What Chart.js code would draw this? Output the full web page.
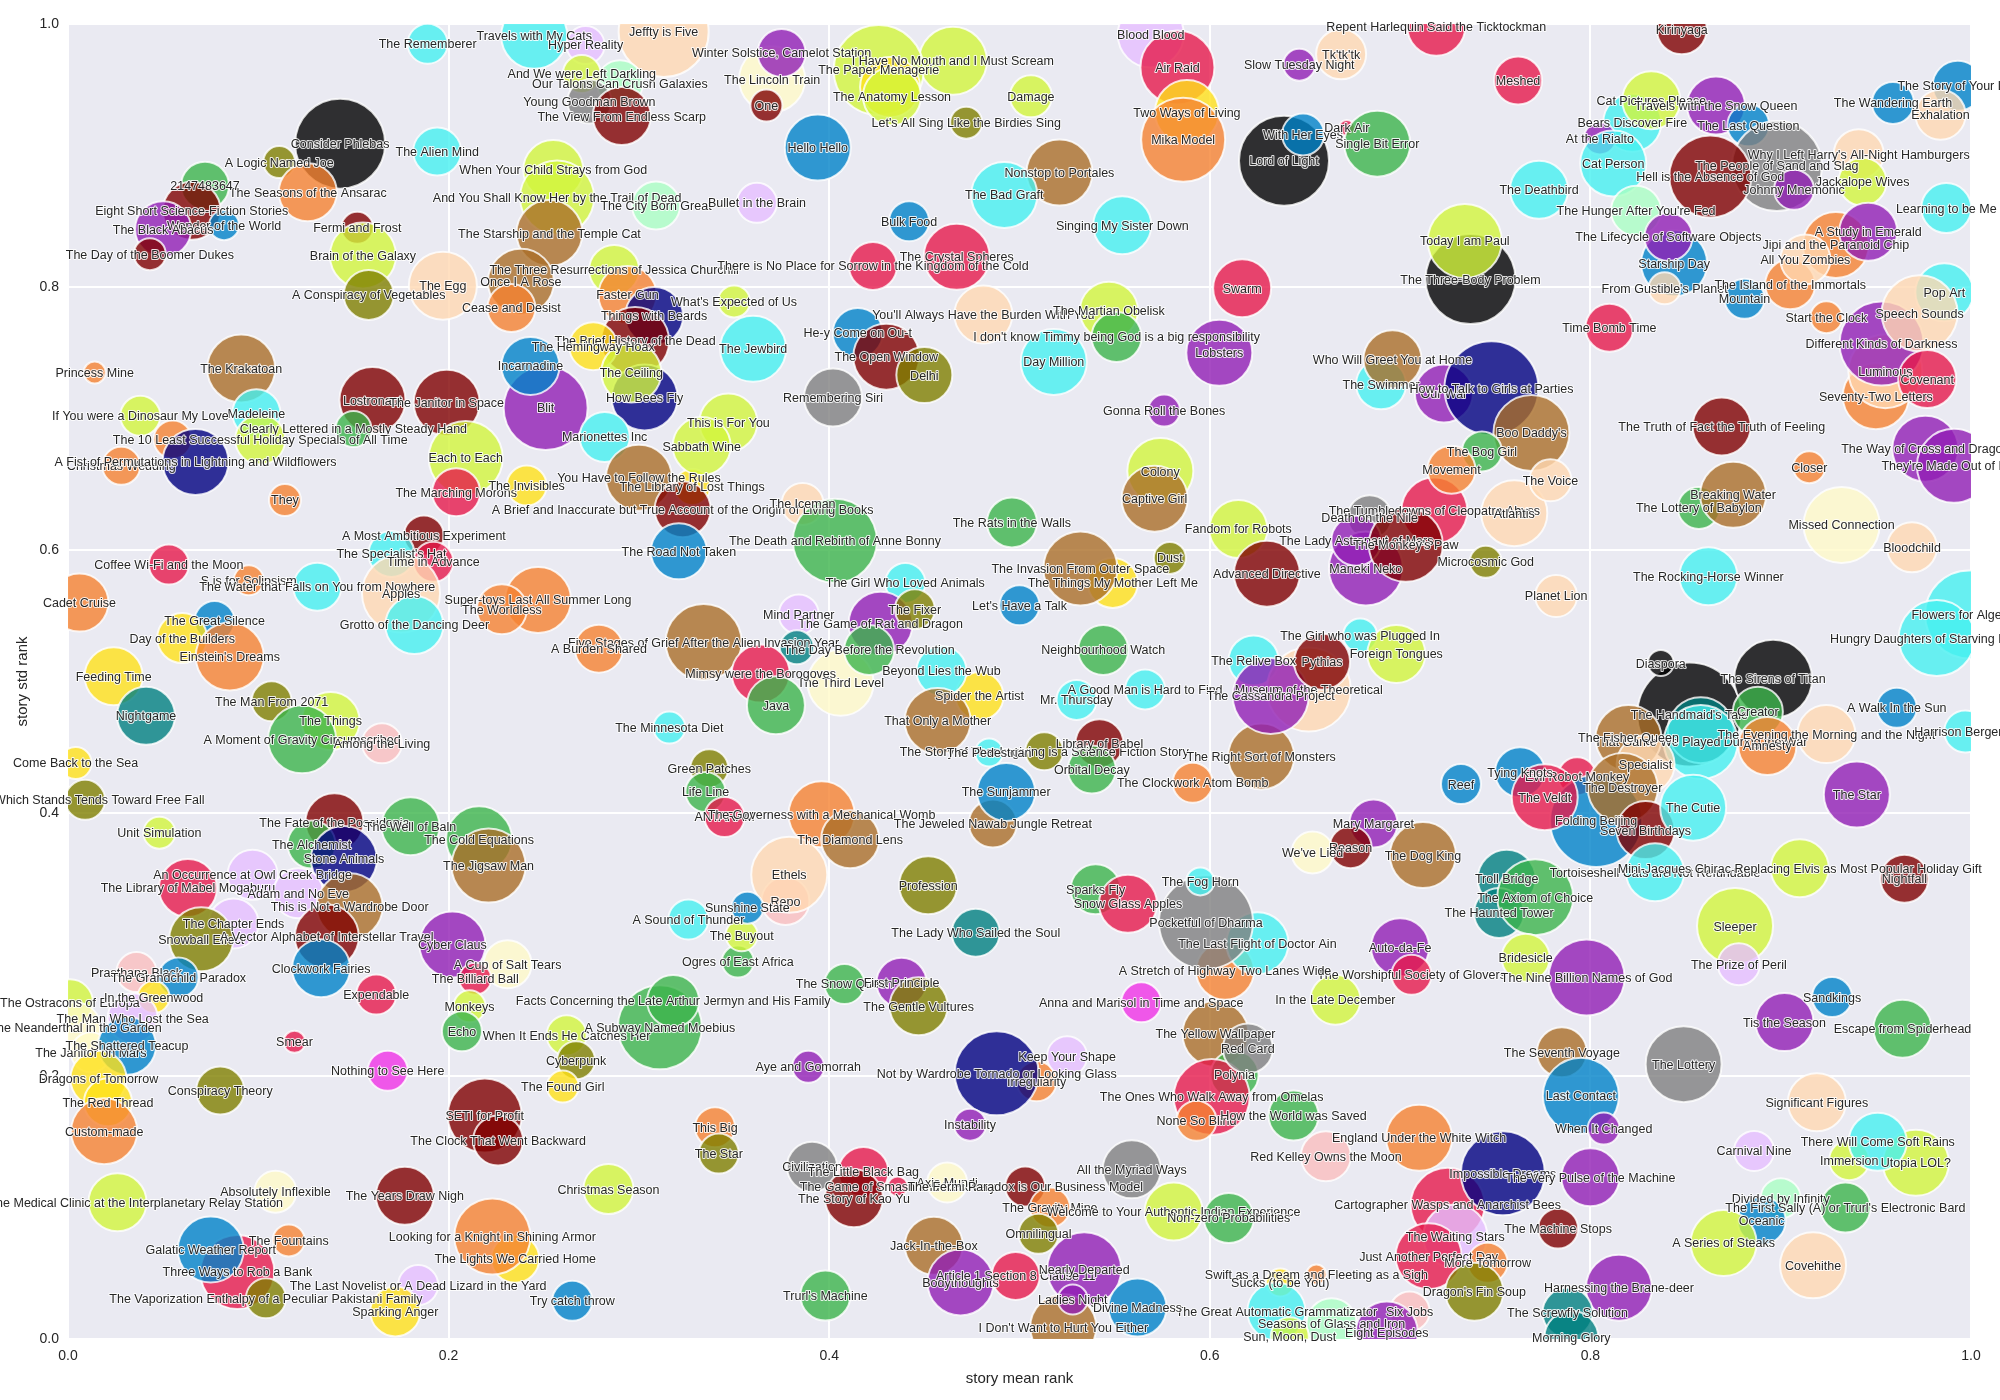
<!DOCTYPE html>
<html>
<head>
<meta charset="utf-8">
<title>story mean rank vs std rank</title>
<script src="https://cdn.jsdelivr.net/npm/chart.js"></script>
<style>
  html, body { margin: 0; padding: 0; background: #fff; }
  #wrap { position: absolute; left: 0; top: 0; width: 2000px; height: 1400px; }
</style>
</head>
<body>
<div id="wrap"><canvas id="chart" width="2000" height="1400"></canvas></div>
<script>
// one row = 10 stories, the arrays below line up row by row
const storyTitles = [
  "The Rememberer", "Travels with My Cats", "Hyper Reality", "Jeffty is Five", "Our Talons Can Crush Galaxies", "And We were Left Darkling", "Young Goodman Brown", "The View From Endless Scarp", "Consider Phlebas", "A Logic Named Joe",
  "The Alien Mind", "When Your Child Strays from God", "And You Shall Know Her by the Trail of Dead", "The City Born Great", "The Seasons of the Ansarac", "2147483647", "Eight Short Science-Fiction Stories", "Wonder of the World", "The Black Abacus", "The Day of the Boomer Dukes",
  "Fermi and Frost", "Brain of the Galaxy", "A Conspiracy of Vegetables", "The Egg", "The Starship and the Temple Cat", "The Three Resurrections of Jessica Churchill", "Once I A Rose", "Cease and Desist", "Faster Gun", "Things with Beards",
  "What's Expected of Us", "The Brief History of the Dead", "The Hemingway Hoax", "Blit", "How Bees Fly", "Incarnadine", "The Ceiling", "Marionettes Inc", "Princess Mine", "The Krakatoan",
  "Madeleine", "If You were a Dinosaur My Love", "Lostronaut", "The Janitor in Space", "Clearly Lettered in a Mostly Steady Hand", "The 10 Least Successful Holiday Specials of All Time", "", "Christmas Wedding", "A Fist of Permutations in Lightning and Wildflowers", "Each to Each",
  "The Marching Morons", "The Invisibles", "You Have to Follow the Rules", "The Library of Lost Things", "A Brief and Inaccurate but True Account of the Origin of Living Books", "They", "A Most Ambitious Experiment", "The Specialist's Hat", "Time in Advance", "Coffee Wi-Fi and the Moon",
  "S is for Solipsism", "The Water that Falls on You from Nowhere", "Apples", "Grotto of the Dancing Deer", "Cadet Cruise", "The Great Silence", "Day of the Builders", "Einstein's Dreams", "Feeding Time", "Nightgame",
  "The Man From 2071", "The Things", "A Moment of Gravity Circumscribed", "Among the Living", "Come Back to the Sea", "That Which Stands Tends Toward Free Fall", "Unit Simulation", "The Fate of the Poseidonia", "The Well of Baln", "The Cold Equations",
  "The Jigsaw Man", "The Alchemist", "Stone Animals", "An Occurrence at Owl Creek Bridge", "The Library of Mabel Mogaburu", "Adam and No Eve", "This is Not a Wardrobe Door", "The Chapter Ends", "Snowball Effect", "A Vector Alphabet of Interstellar Travel",
  "Cyber Claus", "A Cup of Salt Tears", "The Billiard Ball", "Clockwork Fairies", "Expendable", "Monkeys", "Echo", "When It Ends He Catches Her", "A Subway Named Moebius", "Facts Concerning the Late Arthur Jermyn and His Family",
  "Cyberpunk", "The Found Girl", "Smear", "Nothing to See Here", "Conspiracy Theory", "SETI for Profit", "The Clock That Went Backward", "Prasthana Black", "The Grandchild Paradox", "The Ostracons of Europa",
  "In the Greenwood", "The Man Who Lost the Sea", "The Neanderthal in the Garden", "The Janitor on Mars", "The Shattered Teacup", "Dragons of Tomorrow", "The Red Thread", "Custom-made", "Visit to the Medical Clinic at the Interplanetary Relay Station", "Absolutely Inflexible",
  "The Years Draw Nigh", "Christmas Season", "The Lights We Carried Home", "Looking for a Knight in Shining Armor", "The Fountains", "Three Ways to Rob a Bank", "Galatic Weather Report", "The Vaporization Enthalpy of a Peculiar Pakistani Family", "The Last Novelist or A Dead Lizard in the Yard", "Sparking Anger",
  "Try catch throw", "The Lincoln Train", "Winter Solstice, Camelot Station", "One", "I Have No Mouth and I Must Scream", "The Paper Menagerie", "", "The Anatomy Lesson", "Let's All Sing Like the Birdies Sing", "Damage",
  "Hello Hello", "Bullet in the Brain", "Bulk Food", "Nonstop to Portales", "The Bad Graft", "Singing My Sister Down", "The Crystal Spheres", "There is No Place for Sorrow in the Kingdom of the Cold", "You'll Always Have the Burden With You", "The Martian Obelisk",
  "I don't know Timmy being God is a big responsibility", "Day Million", "He-y Come on Ou-t", "The Open Window", "Delhi", "The Jewbird", "Remembering Siri", "This is For You", "Sabbath Wine", "Lobsters",
  "Gonna Roll the Bones", "Colony", "Swarm", "Blood Blood", "Air Raid", "Two Ways of Living", "Mika Model", "Slow Tuesday Night", "Tk'tk'tk", "Lord of Light",
  "With Her Eyes", "Dark Air", "Single Bit Error", "Repent Harlequin Said the Ticktockman", "Kirinyaga", "Meshed", "Bears Discover Fire", "Cat Pictures Please", "Travels with the Snow Queen", "The Last Question",
  "At the Rialto", "Cat Person", "The Deathbird", "Why I Left Harry's All-Night Hamburgers", "The People of Sand and Slag", "Hell is the Absence of God", "Johnny Mnemonic", "Jackalope Wives", "Learning to be Me", "The Story of Your Life",
  "The Wandering Earth", "Exhalation", "The Hunger After You're Fed", "Starship Day", "The Lifecycle of Software Objects", "From Gustible's Planet", "Mountain", "The Island of the Immortals", "Jipi and the Paranoid Chip", "All You Zombies",
  "A Study in Emerald", "Start the Clock", "The Three-Body Problem", "Today I am Paul", "Time Bomb Time", "Pop Art", "Seventy-Two Letters", "Luminous", "Different Kinds of Darkness", "Speech Sounds",
  "Covenant", "The Truth of Fact the Truth of Feeling", "Closer", "The Way of Cross and Dragon", "They're Made Out of Meat", "The Swimmer", "Who Will Greet You at Home", "Our War", "How to Talk to Girls at Parties", "Boo Daddy's",
  "The Bog Girl", "The Tumbledowns of Cleopatra Abyss", "Movement", "Atlantis", "The Voice", "Death on the Nile", "Maneki Neko", "The Lady Astronaut of Mars", "The Monkey's Paw", "Microcosmic God",
  "Planet Lion", "The Lottery of Babylon", "Breaking Water", "Missed Connection", "Bloodchild", "The Rocking-Horse Winner", "Flowers for Algernon", "Hungry Daughters of Starving Mothers", "The Handmaid's Tale", "Diaspora",
  "The Sirens of Titan", "Creator", "", "That Game We Played During the War", "The Evening the Morning and the Night", "Amnesty", "A Walk In the Sun", "Harrison Bergeron", "The Fisher Queen", "Specialist",
  "Evil Robot Monkey", "Tying Knots", "Reef", "Folding Beijing", "The Veldt", "The Destroyer", "Seven Birthdays", "The Cutie", "The Star", "Mary Margaret",
  "Reason", "We've Lied", "The Dog King", "Troll Bridge", "The Haunted Tower", "The Axiom of Choice", "Tortoiseshell Cats are Not Refundable", "Mini-Jacques Chirac Replacing Elvis as Most Popular Holiday Gift", "Nightfall", "Sleeper",
  "The Prize of Peril", "Sandkings", "Tis the Season", "Escape from Spiderhead", "The Lottery", "The Seventh Voyage", "Last Contact", "When It Changed", "Auto-da-Fe", "The Worshipful Society of Glovers",
  "Bridesicle", "The Nine Billion Names of God", "In the Late December", "Significant Figures", "Carnival Nine", "Immersion", "Utopia LOL?", "There Will Come Soft Rains", "Divided by Infinity", "The First Sally (A) or Trurl's Electronic Bard",
  "Oceanic", "A Series of Steaks", "Covehithe", "England Under the White Witch", "Cartographer Wasps and Anarchist Bees", "Impossible Dreams", "The Very Pulse of the Machine", "The Machine Stops", "The Waiting Stars", "Just Another Perfect Day",
  "More Tomorrow", "Dragon's Fin Soup", "Swift as a Dream and Fleeting as a Sigh", "Sucks (to be You)", "The Great Automatic Grammatizator", "Seasons of Glass and Iron", "Sun, Moon, Dust", "Six Jobs", "Eight Episodes", "Harnessing the Brane-deer",
  "The Screwfly Solution", "Morning Glory", "Ogres of East Africa", "The Buyout", "The Snow Queen", "First Principle", "The Gentle Vultures", "Aye and Gomorrah", "Irregularity", "Not by Wardrobe Tornado or Looking Glass",
  "Keep Your Shape", "Instability", "This Big", "The Star", "Civilization", "The Little Black Bag", "The Game of Smash and Recovery", "The Story of Kao Yu", "Axis Mundi", "The Fermi Paradox is Our Business Model",
  "The Gravity Mine", "Welcome to Your Authentic Indian Experience", "Non-zero Probabilities", "All the Myriad Ways", "Omnilingual", "Jack-In-the-Box", "Bodythoughts", "Article 1 Section 8 Clause 11", "Nearly Departed", "I Don't Want to Hurt You Either",
  "Ladies Night", "Divine Madness", "Trurl's Machine", "Anna and Marisol in Time and Space", "A Stretch of Highway Two Lanes Wide", "The Last Flight of Doctor Ain", "Pocketful of Dharma", "The Fog Horn", "Sparks Fly", "Snow Glass Apples",
  "The Yellow Wallpaper", "Polynia", "The Ones Who Walk Away from Omelas", "Red Card", "None So Blind", "How the World was Saved", "Red Kelley Owns the Moon", "The Rats in the Walls", "Captive Girl", "Fandom for Robots",
  "Advanced Directive", "Dust", "The Things My Mother Left Me", "The Invasion From Outer Space", "Let's Have a Talk", "Neighbourhood Watch", "The Iceman", "The Death and Rebirth of Anne Bonny", "The Road Not Taken", "The Girl Who Loved Animals",
  "The Game of Rat and Dragon", "The Fixer", "Mind Partner", "", "Five Stages of Grief After the Alien Invasion Year", "A Burden Shared", "Super-toys Last All Summer Long", "The Worldless", "The Third Level", "Mimsy were the Borogoves",
  "Java", "The Day Before the Revolution", "Spider the Artist", "Beyond Lies the Wub", "That Only a Mother", "The Minnesota Diet", "Green Patches", "Life Line", "ANTARAM", "The Governess with a Mechanical Womb",
  "The Diamond Lens", "Repo", "Ethels", "Sunshine State", "A Sound of Thunder", "Profession", "The Lady Who Sailed the Soul", "The Jeweled Nawab Jungle Retreat", "The Sunjammer", "The Story of Thanksgiving is a Science Fiction Story",
  "The Pedestrian", "Library of Babel", "Orbital Decay", "The Clockwork Atom Bomb", "The Right Sort of Monsters", "A Good Man is Hard to Find", "Mr. Thursday", "The Relive Box", "Museum of the Theoretical", "The Cassandra Project",
  "Pythias", "The Girl who was Plugged In", "Foreign Tongues"
];

const storyMeanRank = [
  .189, .245, .272, .313, .290, .270, .274, .291, .143, .111,
  .194, .255, .257, .309, .126, .072, .065, .082, .050, .043,
  .152, .155, .158, .197, .253, .287, .238, .233, .294, .308,
  .350, .298, .276, .251, .303, .243, .296, .282, .014, .091,
  .099, .038, .160, .199, .150, .101, .055, .028, .067, .209,
  .204, .241, .300, .328, .323, .114, .187, .170, .192, .053,
  .095, .131, .175, .182, .006, .077, .060, .085, .024, .041,
  .107, .138, .123, .165, .004, .009, .048, .140, .180, .216,
  .221, .128, .145, .097, .063, .121, .148, .087, .070, .136,
  .202, .231, .214, .133, .162, .211, .207, .262, .311, .318,
  .267, .260, .119, .168, .080, .219, .226, .036, .058, .001,
  .045, .034, .004, .012, .031, .016, .021, .019, .026, .109,
  .177, .284, .235, .223, .116, .089, .075, .104, .184, .172,
  .265, .370, .375, .367, .465, .426, .432, .433, .472, .506,
  .394, .362, .442, .521, .492, .554, .467, .423, .481, .547,
  .551, .518, .415, .430, .450, .360, .402, .347, .333, .605,
  .576, .574, .617, .569, .583, .588, .586, .647, .669, .639,
  .649, .672, .688, .719, .848, .762, .822, .832, .866, .883,
  .805, .812, .773, .941, .898, .863, .907, .943, .987, .993,
  .959, .984, .824, .844, .841, .839, .881, .905, .929, .913,
  .946, .924, .737, .734, .810, .986, .950, .955, .953, .973,
  .977, .869, .915, .976, .991, .690, .696, .723, .748, .769,
  .743, .718, .727, .760, .779, .684, .682, .677, .703, .745,
  .782, .857, .875, .932, .969, .862, .999, .982, .852, .837,
  .896, .888, .858, .858, .924, .893, .961, .997, .820, .829,
  .793, .763, .732, .803, .776, .817, .829, .854, .940, .686,
  .674, .654, .712, .756, .752, .771, .834, .910, .965, .876,
  .878, .927, .902, .964, .849, .785, .795, .807, .700, .706,
  .766, .798, .666, .919, .886, .936, .971, .951, .900, .934,
  .890, .870, .917, .710, .725, .754, .800, .783, .729, .715,
  .746, .739, .656, .637, .635, .664, .642, .705, .693, .815,
  .788, .790, .352, .354, .408, .438, .447, .389, .509, .488,
  .525, .474, .340, .342, .391, .418, .436, .413, .462, .503,
  .516, .581, .610, .559, .510, .455, .469, .498, .534, .523,
  .528, .562, .398, .564, .608, .625, .598, .595, .540, .557,
  .603, .613, .601, .620, .593, .644, .661, .496, .571, .615,
  .630, .579, .549, .532, .500, .544, .386, .403, .321, .440,
  .427, .445, .384, .383, .334, .279, .247, .228, .406, .364,
  .372, .421, .479, .459, .457, .316, .337, .335, .345, .396,
  .411, .377, .379, .357, .326, .452, .477, .486, .493, .513,
  .484, .542, .538, .591, .627, .566, .530, .623, .652, .632,
  .659, .679, .698
];

const storyStdRank = [
  .985, .991, .984, .994, .955, .962, .941, .930, .909, .895,
  .903, .889, .868, .862, .872, .877, .858, .847, .844, .825,
  .845, .824, .794, .801, .841, .813, .804, .784, .794, .778,
  .789, .759, .755, .708, .716, .740, .735, .686, .735, .738,
  .704, .702, .714, .712, .692, .684, .684, .664, .667, .670,
  .644, .649, .655, .648, .631, .638, .611, .597, .591, .589,
  .577, .572, .567, .543, .560, .546, .533, .519, .504, .474,
  .485, .470, .456, .453, .438, .410, .385, .393, .390, .380,
  .360, .376, .365, .353, .343, .339, .329, .316, .304, .306,
  .300, .285, .274, .282, .262, .253, .234, .231, .237, .257,
  .212, .192, .226, .204, .189, .170, .151, .279, .275, .256,
  .260, .244, .237, .218, .223, .198, .180, .158, .104, .112,
  .109, .114, .061, .078, .075, .051, .068, .031, .041, .021,
  .029, .958, .978, .938, .972, .965, .952, .945, .925, .945,
  .906, .864, .850, .887, .870, .847, .823, .816, .779, .782,
  .762, .743, .765, .747, .733, .753, .716, .697, .679, .750,
  .706, .660, .799, .992, .967, .933, .912, .969, .977, .896,
  .916, .921, .909, .998, .996, .957, .925, .942, .938, .923,
  .913, .894, .874, .901, .892, .884, .874, .880, .860, .953,
  .940, .931, .858, .818, .838, .799, .791, .802, .832, .821,
  .842, .777, .806, .835, .769, .796, .717, .736, .757, .780,
  .730, .694, .663, .677, .664, .726, .745, .719, .723, .689,
  .675, .630, .661, .628, .653, .625, .586, .607, .604, .591,
  .565, .632, .642, .619, .602, .580, .551, .533, .475, .514,
  .502, .477, .463, .454, .460, .451, .480, .462, .457, .437,
  .428, .431, .422, .394, .412, .419, .387, .404, .414, .392,
  .374, .370, .368, .350, .324, .336, .355, .358, .350, .314,
  .285, .260, .241, .236, .209, .218, .185, .160, .298, .277,
  .290, .275, .258, .180, .143, .136, .134, .150, .107, .100,
  .090, .073, .056, .153, .102, .126, .123, .084, .078, .063,
  .058, .036, .049, .043, .021, .012, .002, .021, .005, .039,
  .020, .001, .287, .307, .270, .271, .253, .207, .196, .202,
  .215, .163, .161, .141, .131, .127, .116, .107, .119, .116,
  .100, .097, .092, .129, .080, .071, .043, .048, .053, .009,
  .030, .024, .033, .256, .280, .301, .317, .348, .342, .331,
  .232, .201, .184, .221, .166, .170, .139, .621, .639, .616,
  .582, .594, .575, .586, .558, .524, .635, .607, .599, .575,
  .544, .555, .551, .526, .530, .525, .562, .555, .499, .506,
  .482, .524, .489, .508, .470, .465, .434, .416, .397, .399,
  .380, .333, .353, .328, .319, .345, .309, .392, .416, .447,
  .446, .453, .433, .423, .443, .494, .486, .516, .494, .489,
  .515, .535, .521
];

// bubble area
const storySize = [
  441, 1156, 400, 2116, 576, 400, 529, 900, 2116, 289,
  625, 961, 1444, 625, 900, 625, 900, 256, 841, 289,
  289, 1156, 676, 1225, 1156, 676, 1156, 625, 900, 900,
  289, 1225, 625, 1849, 1156, 900, 961, 676, 144, 1225,
  625, 441, 1156, 1156, 361, 676, 400, 400, 1156, 1444,
  625, 441, 1156, 361, 841, 289, 441, 576, 441, 441,
  256, 625, 1600, 900, 900, 441, 676, 1225, 900, 900,
  441, 900, 1225, 441, 289, 441, 289, 900, 900, 1156,
  1444, 625, 1156, 676, 900, 676, 1156, 676, 1089, 1089,
  1156, 625, 289, 900, 441, 289, 441, 441, 1849, 729,
  400, 289, 144, 441, 625, 1444, 676, 441, 441, 576,
  289, 676, 676, 441, 900, 841, 625, 1156, 900, 484,
  900, 676, 625, 1521, 289, 1444, 1156, 441, 441, 676,
  441, 1156, 625, 289, 1225, 2116, 961, 900, 289, 484,
  1156, 441, 441, 1156, 1156, 900, 1156, 625, 900, 900,
  676, 1156, 676, 1156, 841, 1156, 900, 900, 900, 1156,
  289, 1156, 900, 1156, 1444, 1089, 1849, 289, 676, 2116,
  484, 81, 1156, 900, 676, 625, 900, 900, 900, 484,
  289, 1156, 900, 676, 2116, 1764, 441, 625, 676, 676,
  484, 676, 676, 1156, 625, 289, 441, 676, 1156, 676,
  900, 289, 2116, 1444, 625, 900, 1156, 1444, 1849, 1521,
  900, 900, 289, 1156, 1444, 676, 900, 900, 2304, 1521,
  441, 1156, 625, 1156, 484, 529, 1444, 676, 1444, 289,
  484, 484, 1156, 1521, 676, 900, 2025, 1521, 2809, 196,
  1600, 676, 1156, 1444, 900, 900, 441, 484, 1156, 900,
  400, 676, 441, 2209, 1156, 1296, 900, 1156, 1156, 625,
  484, 484, 1156, 900, 676, 1521, 900, 900, 625, 1521,
  484, 441, 900, 900, 1521, 676, 1521, 289, 900, 441,
  625, 1521, 676, 900, 441, 441, 1156, 900, 441, 676,
  625, 1156, 1156, 1156, 1444, 1849, 900, 441, 1089, 1156,
  441, 900, 121, 225, 900, 676, 400, 441, 1024, 1156,
  676, 784, 289, 289, 441, 676, 900, 289, 441, 1849,
  441, 289, 441, 441, 676, 676, 121, 900, 441, 441,
  441, 900, 676, 900, 441, 900, 1156, 625, 1444, 1156,
  256, 900, 676, 441, 900, 1024, 2304, 225, 676, 900,
  1156, 625, 1521, 676, 441, 676, 676, 676, 1156, 900,
  1156, 289, 676, 1444, 441, 676, 484, 1849, 841, 441,
  1089, 441, 441, 324, 1521, 625, 1156, 676, 1156, 900,
  900, 676, 625, 676, 1156, 289, 400, 441, 441, 1156,
  900, 625, 1521, 289, 441, 900, 625, 625, 900, 400,
  225, 625, 625, 441, 1156, 441, 441, 676, 1849, 1521,
  841, 324, 900
];

const storyCluster = [
  "cyan", "cyan", "lavender", "coral", "mint", "lime", "grey", "maroon", "black", "olive",
  "cyan", "lime", "lime", "mint", "orange", "green", "maroon", "blue", "purple", "maroon",
  "maroon", "lime", "olive", "coral", "brown", "lime", "brown", "orange", "orange", "navy",
  "lime", "maroon", "yellow", "purple", "navy", "blue", "lime", "cyan", "orange", "brown",
  "cyan", "lime", "maroon", "maroon", "green", "lime", "orange", "orange", "navy", "lime",
  "red", "yellow", "brown", "yellow", "maroon", "orange", "maroon", "cyan", "red", "red",
  "orange", "cyan", "coral", "cyan", "orange", "blue", "yellow", "orange", "yellow", "teal",
  "olive", "lime", "green", "pink", "yellow", "olive", "lime", "maroon", "green", "green",
  "brown", "green", "navy", "lavender", "red", "lavender", "brown", "lavender", "olive", "maroon",
  "purple", "beige", "red", "blue", "red", "lime", "green", "lime", "green", "green",
  "olive", "yellow", "red", "magenta", "olive", "maroon", "maroon", "pink", "blue", "lime",
  "yellow", "lavender", "beige", "beige", "blue", "yellow", "yellow", "orange", "lime", "beige",
  "maroon", "lime", "yellow", "orange", "orange", "red", "blue", "olive", "lavender", "yellow",
  "blue", "beige", "purple", "maroon", "lime", "lime", "yellow", "lime", "olive", "lime",
  "blue", "lavender", "blue", "brown", "cyan", "cyan", "red", "red", "coral", "lime",
  "green", "cyan", "blue", "maroon", "olive", "cyan", "grey", "lime", "lime", "purple",
  "purple", "lime", "red", "lavender", "red", "yellow", "orange", "purple", "coral", "black",
  "blue", "red", "green", "red", "maroon", "red", "cyan", "lime", "purple", "blue",
  "purple", "cyan", "cyan", "coral", "grey", "maroon", "purple", "lime", "cyan", "blue",
  "blue", "coral", "mint", "blue", "purple", "coral", "blue", "orange", "orange", "coral",
  "purple", "orange", "black", "lime", "red", "cyan", "orange", "coral", "purple", "coral",
  "red", "maroon", "orange", "purple", "purple", "cyan", "brown", "purple", "navy", "brown",
  "green", "red", "orange", "coral", "coral", "grey", "purple", "purple", "maroon", "olive",
  "coral", "green", "brown", "beige", "coral", "cyan", "cyan", "cyan", "black", "black",
  "black", "green", "teal", "cyan", "coral", "orange", "blue", "cyan", "brown", "coral",
  "red", "blue", "blue", "blue", "red", "brown", "maroon", "cyan", "purple", "purple",
  "maroon", "beige", "brown", "teal", "teal", "green", "cyan", "lime", "maroon", "lime",
  "lavender", "blue", "purple", "green", "grey", "brown", "blue", "purple", "purple", "red",
  "lime", "purple", "lime", "coral", "lavender", "lime", "lime", "cyan", "mint", "green",
  "blue", "lime", "coral", "orange", "red", "navy", "purple", "maroon", "lavender", "red",
  "orange", "olive", "orange", "yellow", "cyan", "mint", "lime", "pink", "purple", "purple",
  "teal", "teal", "green", "lime", "green", "purple", "olive", "purple", "orange", "navy",
  "lavender", "purple", "orange", "olive", "grey", "red", "red", "maroon", "beige", "maroon",
  "orange", "lime", "green", "grey", "olive", "brown", "purple", "red", "purple", "brown",
  "purple", "blue", "green", "magenta", "orange", "cyan", "grey", "cyan", "green", "red",
  "brown", "green", "red", "grey", "orange", "green", "pink", "green", "brown", "lime",
  "maroon", "olive", "yellow", "brown", "blue", "green", "coral", "green", "blue", "cyan",
  "purple", "olive", "lavender", "teal", "brown", "orange", "orange", "orange", "beige", "red",
  "green", "green", "yellow", "cyan", "brown", "cyan", "olive", "green", "red", "orange",
  "brown", "pink", "coral", "blue", "cyan", "olive", "teal", "brown", "blue", "olive",
  "cyan", "maroon", "green", "orange", "brown", "cyan", "cyan", "cyan", "coral", "purple",
  "maroon", "cyan", "lime"
];

const tickValues = [0, 0.2, 0.4, 0.6, 0.8, 1];

const clusterColors = {
  red: "#e6194b", green: "#3cb44b", yellow: "#ffe119", blue: "#0082c8", orange: "#f58231",
  purple: "#911eb4", cyan: "#46f0f0", magenta: "#f032e6", lime: "#d2f53c", pink: "#fabebe",
  teal: "#008080", lavender: "#e6beff", brown: "#aa6e28", beige: "#fffac8", maroon: "#800000",
  mint: "#aaffc3", olive: "#808000", coral: "#ffd8b1", navy: "#000080", grey: "#808080", black: "#000000"
};

const TEXT_COLOR = "#262626";
const FONT = '"Liberation Sans", Arial, sans-serif';

function withAlpha(hex, alpha) {
    const n = parseInt(hex.slice(1), 16);
    return `rgba(${(n >> 16) & 255}, ${(n >> 8) & 255}, ${n & 255}, ${alpha})`;
}

const points = storyTitles.map((title, i) => ({
    x: storyMeanRank[i],
    y: storyStdRank[i],
    r: Math.sqrt(storySize[i]) - 1
}));

// seaborn style panel background
const panelBackground = {
    id: "panelBackground",
    beforeDraw(chart) {
        const { ctx, chartArea: a } = chart;
        ctx.save();
        ctx.fillStyle = "#eaeaf2";
        ctx.fillRect(a.left, a.top, a.right - a.left, a.bottom - a.top);
        ctx.restore();
    }
};

// titles sit on top of every bubble, not clipped to the panel
const storyLabels = {
    id: "storyLabels",
    afterDatasetsDraw(chart) {
        const { ctx, scales } = chart;
        ctx.save();
        ctx.font = `12.5px ${FONT}`;
        ctx.textAlign = "center";
        ctx.textBaseline = "middle";
        ctx.lineJoin = "round";
        storyTitles.forEach((title, i) => {
            if (!title) return;
            const px = scales.x.getPixelForValue(storyMeanRank[i]);
            const py = scales.y.getPixelForValue(storyStdRank[i]) + 1;
            ctx.strokeStyle = "rgba(255,255,255,0.85)";
            ctx.lineWidth = 2;
            ctx.strokeText(title, px, py);
            ctx.fillStyle = TEXT_COLOR;
            ctx.fillText(title, px, py);
        });
        ctx.restore();
    }
};

function axisOptions(label) {
    return {
        type: "linear",
        min: 0,
        max: 1,
        afterBuildTicks: (scale) => { scale.ticks = tickValues.map((value) => ({ value })); },
        ticks: {
            color: TEXT_COLOR,
            font: { family: FONT, size: 14 },
            padding: 9,
            maxRotation: 0,
            callback: (v) => v.toFixed(1)
        },
        grid: { color: "#ffffff", lineWidth: 2, drawTicks: false },
        border: { display: false },
        title: {
            display: true,
            text: label,
            color: TEXT_COLOR,
            font: { family: FONT, size: 15 },
            padding: 0
        }
    };
}

const xAxis = axisOptions("story mean rank");
xAxis.afterFit = (scale) => { scale.height = 49; };
const yAxis = axisOptions("story std rank");
yAxis.afterFit = (scale) => { scale.width = 54; };

new Chart(document.getElementById("chart").getContext("2d"), {
    type: "bubble",
    data: {
        datasets: [{
            data: points,
            backgroundColor: storyCluster.map((c) => withAlpha(clusterColors[c], 0.8)),
            borderColor: "rgba(255,255,255,0.8)",
            borderWidth: 2,
            clip: 0
        }]
    },
    options: {
        responsive: false,
        animation: false,
        events: [],
        // bubble overflow would otherwise push the panel in from every side
        layout: { autoPadding: false, padding: { left: 14, top: 24, right: 29, bottom: 12 } },
        plugins: { legend: { display: false }, tooltip: { enabled: false } },
        scales: { x: xAxis, y: yAxis }
    },
    plugins: [panelBackground, storyLabels]
});
</script>
</body>
</html>
